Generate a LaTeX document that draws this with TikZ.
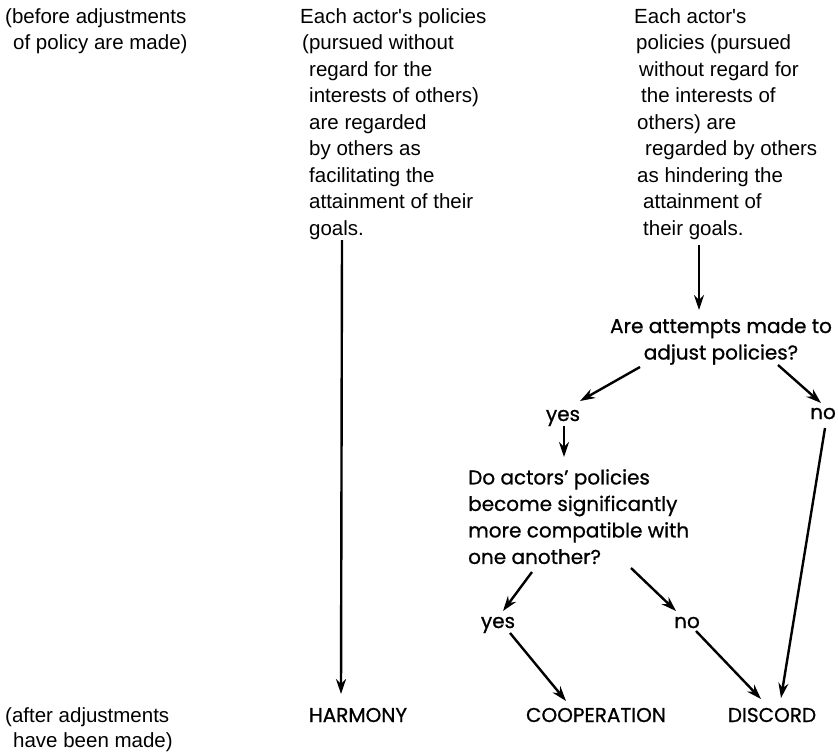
\documentclass[tikz,border=0pt]{standalone}
\usepackage{fontspec}
\setmainfont{Liberation Sans}
\newfontfamily\arialfont{Liberation Sans}
\newfontfamily\geofont{Poppins}[FakeBold=0.8]
\usetikzlibrary{arrows.meta, calc}

\begin{document}
\begin{tikzpicture}[x=1pt,y=-1pt,
            block/.style={anchor=north west,align=left,inner sep=0pt,font=\arialfont\fontsize{20.5}{26.5}\selectfont},
            question/.style={inner sep=0pt,font=\geofont\fontsize{20}{26.5}\selectfont},
            answer/.style={anchor=base,inner sep=0pt,font=\geofont\fontsize{20}{22}\selectfont},
            outcome/.style={anchor=base,inner sep=0pt,font=\geofont\fontsize{20}{22}\selectfont},
            arr/.style={-{Stealth[length=15pt,width=10pt]},line width=2.4pt}
        ]
            \useasboundingbox (0,0) rectangle (838,753);

            % Time labels
            \node[block] (before) at (5,8) {(before adjustments\\\hspace*{8pt}of policy are made)};
            \node[block,font=\arialfont\fontsize{20.5}{25}\selectfont] (after) at (5,707) {(after adjustments\\\hspace*{8pt}have been made)};

            % Starting situations
            \node[block] (colA) at (300,8) {Each actor's policies\\
                \hspace*{2pt}(pursued without\\
                \hspace*{9pt}regard for the\\
                \hspace*{9pt}interests of others)\\
                \hspace*{9pt}are regarded\\
                \hspace*{9pt}by others as\\
                \hspace*{9pt}facilitating the\\
                \hspace*{9pt}attainment of their\\
                \hspace*{9pt}goals.};
            \node[block] (colB) at (634,8) {Each actor's\\
                \hspace*{2pt}policies (pursued\\
                \hspace*{5pt}without regard for\\
                \hspace*{7pt}the interests of\\
                \hspace*{3pt}others) are\\
                \hspace*{11pt}regarded by others\\
                \hspace*{3pt}as hindering the\\
                \hspace*{9pt}attainment of\\
                \hspace*{9pt}their goals.};

            % Questions
            \node[question,anchor=north,align=center] (attempts) at (721,318) {Are attempts made to\\adjust policies?};
            \node[question,anchor=north west,align=left] (compat) at (468,469) {Do actors’ policies\\become significantly\\more compatible with\\one another?};

            % Answers
            \node[answer] (yes1) at (563,421) {yes};
            \node[answer] (no1) at (823,419) {no};
            \node[answer] (yes2) at (498,628) {yes};
            \node[answer] (no2) at (687,628) {no};

            % Outcomes
            \node[outcome] (harmony) at (358,722) {HARMONY};
            \node[outcome] (coop) at (596,722) {COOPERATION};
            \node[outcome] (discord) at (772,722) {DISCORD};

            % Connections
            \draw[arr] ($(colA.north west)+(42,232)$) -- ($(harmony.base)+(-17,-28)$);
            \draw[arr] ($(colB.north west)+(65,237)$) -- ($(attempts.north)+(-22,-8)$);

            \draw[arr] ($(attempts.north)+(-81,49)$) -- ($(yes1.base)+(17,-20)$);
            \draw[arr] ($(attempts.north)+(57,47)$) -- ($(no1.base)+(-2,-16)$);

            \draw[arr] ($(yes1.base)+(1,5)$) -- ($(compat.north west)+(96,-12)$);
            \draw[arr] ($(no1.base)+(2,9)$) -- ($(discord.base)+(9,-24)$);

            \draw[arr] ($(compat.north west)+(64,103)$) -- ($(yes2.base)+(5,-17)$);
            \draw[arr] ($(compat.north west)+(163,99)$) -- ($(no2.base)+(-11,-17)$);

            \draw[arr] ($(yes2.base)+(12,5)$) -- ($(coop.base)+(-30,-21)$);
            \draw[arr] ($(no2.base)+(9,3)$) -- ($(discord.base)+(-11,-23)$);
        \end{tikzpicture}
\end{document}
